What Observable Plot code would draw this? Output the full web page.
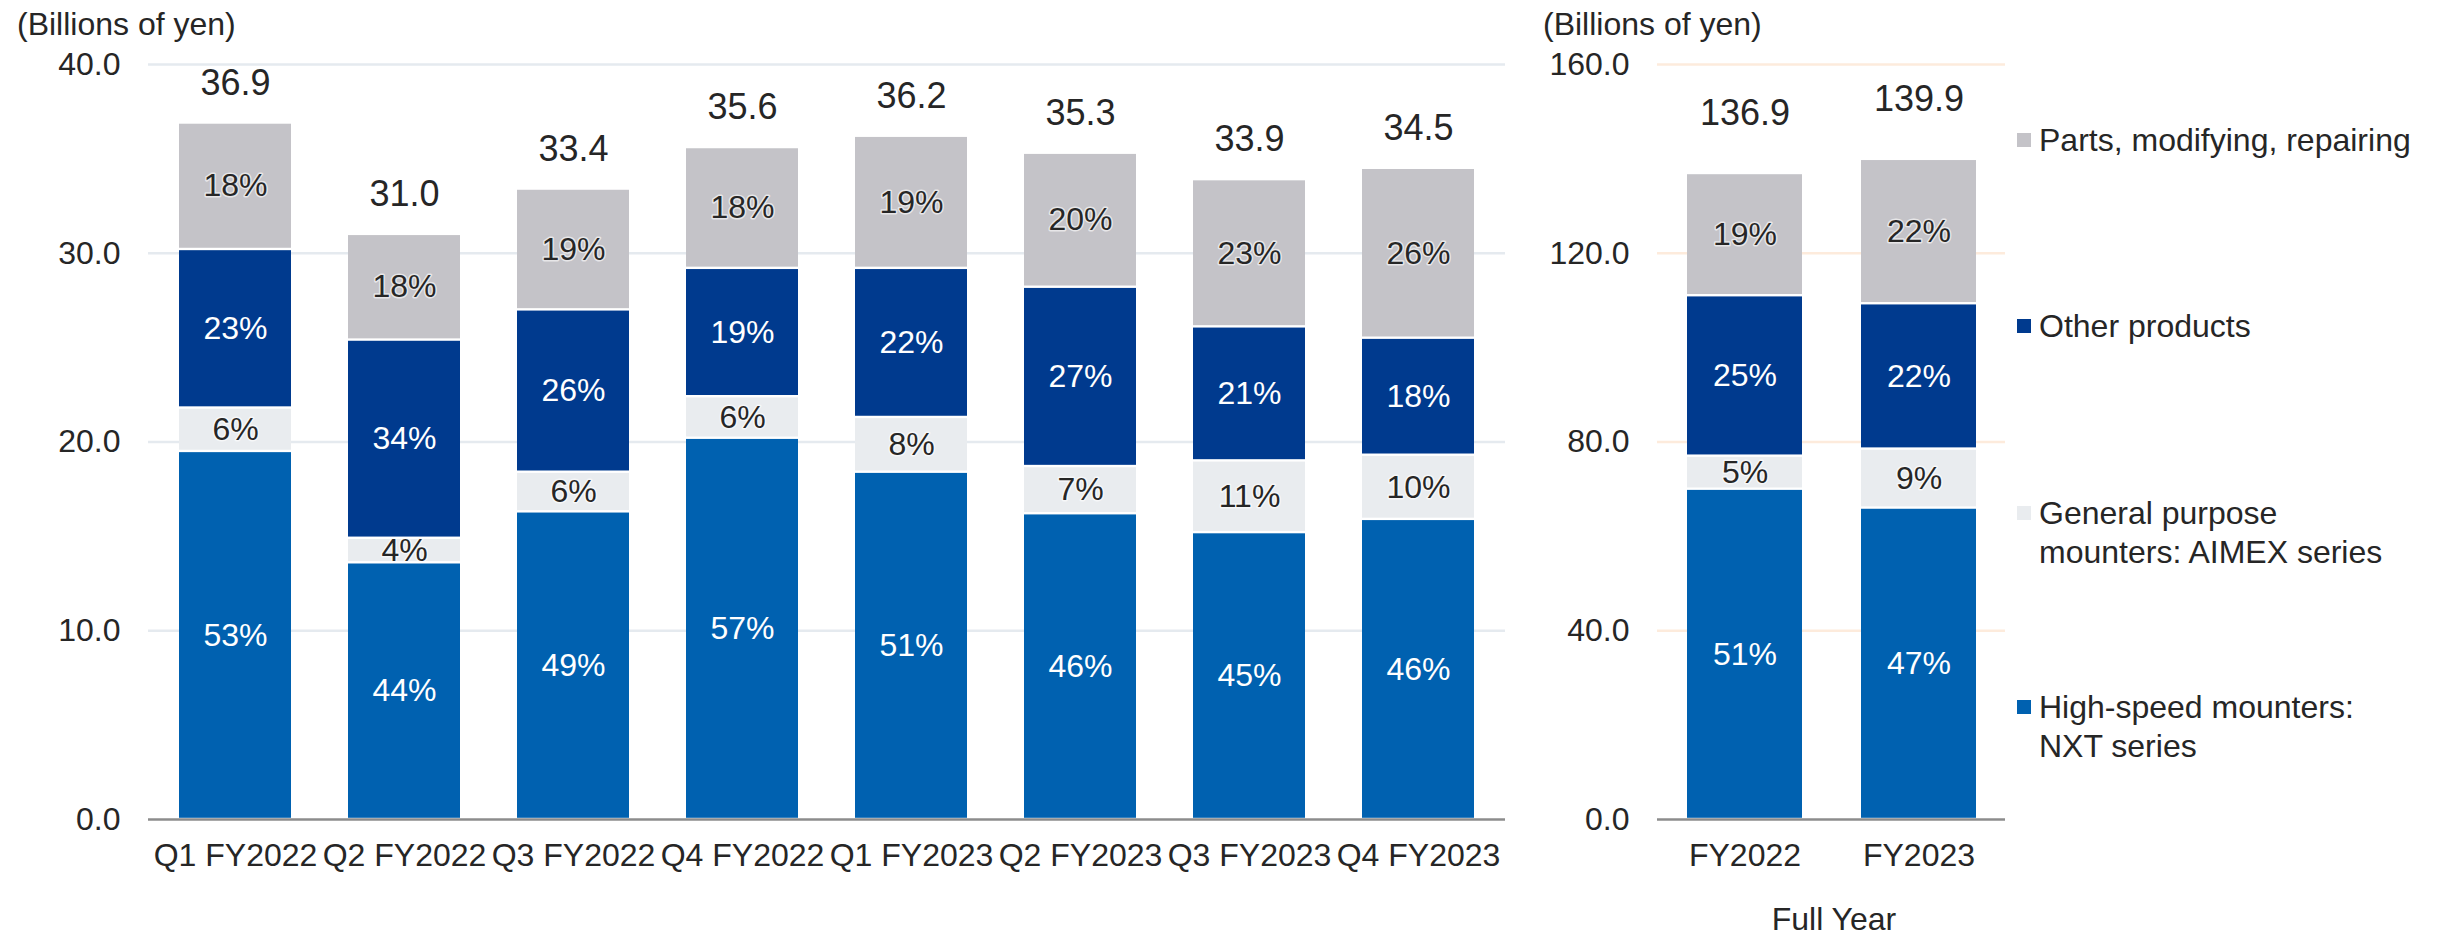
<!DOCTYPE html>
<html><head><meta charset="utf-8">
<script src="https://cdn.jsdelivr.net/npm/d3@7"></script>
<script src="https://cdn.jsdelivr.net/npm/@observablehq/plot@0.6"></script>
<style>
body{margin:0;background:#fff;}
#root{position:relative;width:2437px;height:940px;overflow:hidden;font-family:"Liberation Sans",Arial,sans-serif;color:#262626;background:#fff;}
.abs{position:absolute;font-size:32px;line-height:39px;white-space:nowrap;}
.sw{position:absolute;width:14px;height:14px;}
</style></head><body><div id="root"></div>
<script>
// ---- data ----
const segments = ["High-speed mounters: NXT series", "General purpose mounters: AIMEX series", "Other products", "Parts, modifying, repairing"];
const segColors = ["#0061b0", "#e9ecef", "#003a8e", "#c4c3c8"];

const periods = ["Q1 FY2022", "Q2 FY2022", "Q3 FY2022", "Q4 FY2022", "Q1 FY2023", "Q2 FY2023", "Q3 FY2023", "Q4 FY2023"];
const qNxt   = [19.5, 13.6, 16.3, 20.2, 18.4, 16.2, 15.2, 15.9];
const qAimex = [2.3, 1.3, 2.1, 2.2, 2.9, 2.5, 3.8, 3.4];
const qOther = [8.4, 10.5, 8.6, 6.8, 7.9, 9.5, 7.1, 6.2];
const qParts = [6.7, 5.6, 6.4, 6.4, 7.0, 7.1, 7.8, 9.0];
const qTotals = [36.9, 31.0, 33.4, 35.6, 36.2, 35.3, 33.9, 34.5];
const qNxtPct   = [53, 44, 49, 57, 51, 46, 45, 46];
const qAimexPct = [6, 4, 6, 6, 8, 7, 11, 10];
const qOtherPct = [23, 34, 26, 19, 22, 27, 21, 18];
const qPartsPct = [18, 18, 19, 18, 19, 20, 23, 26];
const qTicks = [0, 10, 20, 30, 40];

const years = ["FY2022", "FY2023"];
const fNxt   = [70.0, 66.0];
const fAimex = [7.0, 12.5];
const fOther = [34.0, 30.8];
const fParts = [25.9, 30.6];
const fTotals = [136.9, 139.9];
const fNxtPct   = [51, 47];
const fAimexPct = [5, 9];
const fOtherPct = [25, 22];
const fPartsPct = [19, 22];
const fTicks = [0, 40, 80, 120, 160];

const unitLabel = "(Billions of yen)";
const fullYearLabel = "Full Year";

// ---- build ----
const FONT = '"Liberation Sans", Arial, sans-serif';
const INK = "#262626";
const lightText = [segments[0], segments[2]];

function rowsOf(cats, vals, pcts) {
  const rows = [];
  cats.forEach((c, i) => {
    segments.forEach((s, k) => rows.push({period: c, segment: s, value: vals[k][i], pct: pcts[k][i]}));
  });
  return rows;
}

function chart({cats, vals, pcts, totals, ticks, grid, width, height, marginLeft, marginRight, totalDy}) {
  const rows = rowsOf(cats, vals, pcts);
  const trows = cats.map((c, i) => ({period: c, total: totals[i]}));
  return Plot.plot({
    width, height, marginLeft, marginRight, marginTop: 64, marginBottom: height - 819,
    style: {fontFamily: FONT, fontSize: "32px", color: INK, background: "transparent", overflow: "visible"},
    x: {domain: cats, paddingInner: 0.34, paddingOuter: 0.17, label: null},
    y: {domain: [0, ticks[ticks.length - 1]], label: null},
    color: {domain: segments, range: segColors},
    marks: [
      Plot.gridY(ticks.filter(t => t > 0), {stroke: grid, strokeOpacity: 1, strokeWidth: 2.5}),
      Plot.axisY(ticks, {tickSize: 0, tickPadding: 28, tickFormat: d => d.toFixed(1), fontSize: 32, label: null}),
      Plot.axisX({tickSize: 0, tickPadding: 24, fontSize: 32, label: null}),
      Plot.barY(rows, {x: "period", y: "value", fill: "segment", insetTop: 1.2, insetBottom: 1.2}),
      Plot.ruleY([0], {stroke: "#8c8c8c", strokeWidth: 2.5}),
      Plot.text(rows, Plot.stackY({x: "period", y: "value", text: d => lightText.includes(d.segment) ? d.pct + "%" : "", fill: "white", fontSize: 32})),
      Plot.text(rows, Plot.stackY({x: "period", y: "value", text: d => lightText.includes(d.segment) ? "" : d.pct + "%", fill: INK, stroke: "white", strokeOpacity: 0.6, strokeWidth: 3, fontSize: 32})),
      Plot.text(trows, {x: "period", y: "total", text: d => d.total.toFixed(1), dy: totalDy, fontSize: 36, fill: INK})
    ]
  });
}

const root = document.getElementById("root");

const left = chart({
  cats: periods, vals: [qNxt, qAimex, qOther, qParts], pcts: [qNxtPct, qAimexPct, qOtherPct, qPartsPct],
  totals: qTotals, ticks: qTicks, grid: "#e5eaef", width: 1520, height: 900, marginLeft: 148, marginRight: 15, totalDy: -40
});
left.style.position = "absolute"; left.style.left = "0px"; left.style.top = "0px";
root.appendChild(left);

const right = chart({
  cats: years, vals: [fNxt, fAimex, fOther, fParts], pcts: [fNxtPct, fAimexPct, fOtherPct, fPartsPct],
  totals: fTotals, ticks: fTicks, grid: "#fdebdc", width: 485, height: 900, marginLeft: 127, marginRight: 10, totalDy: -60
});
right.style.position = "absolute"; right.style.left = "1530px"; right.style.top = "0px";
root.appendChild(right);

function addText(txt, left, top, extra) {
  const d = document.createElement("div");
  d.className = "abs";
  d.textContent = txt;
  d.style.left = left + "px"; d.style.top = top + "px";
  if (extra) Object.assign(d.style, extra);
  root.appendChild(d);
  return d;
}
addText(unitLabel, 17, 5);
addText(unitLabel, 1543, 5);
addText(fullYearLabel, 1834, 901, {transform: "translateX(-50%)", lineHeight: "36px"});

// legend (top to bottom: Parts, Other, AIMEX, NXT)
const legendItems = [
  {k: 3, lines: ["Parts, modifying, repairing"], top: 121},
  {k: 2, lines: ["Other products"], top: 307},
  {k: 1, lines: ["General purpose", "mounters: AIMEX series"], top: 494},
  {k: 0, lines: ["High-speed mounters:", "NXT series"], top: 688}
];
legendItems.forEach(it => {
  const sw = document.createElement("div");
  sw.className = "sw";
  sw.style.left = "2017px"; sw.style.top = (it.top + 12) + "px";
  sw.style.background = segColors[it.k];
  root.appendChild(sw);
  const d = addText("", 2039, it.top);
  d.innerHTML = it.lines.join("<br>");
});
</script></body></html>
